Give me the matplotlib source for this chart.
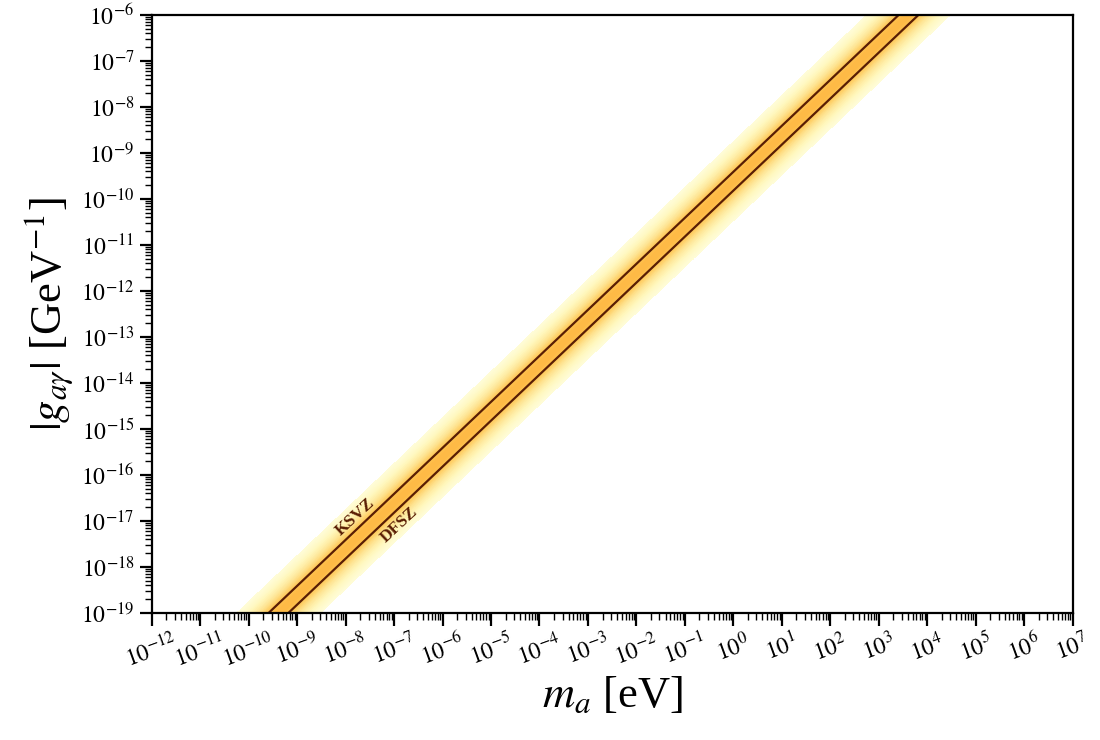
import numpy as np
import matplotlib
matplotlib.use('Agg')
import matplotlib.pyplot as plt

plt.rcParams['font.family'] = ['Liberation Serif', 'DejaVu Serif']
plt.rcParams['mathtext.fontset'] = 'stix'

# axis ranges
m_min, m_max = 1e-12, 1e7
g_min, g_max = 1e-19, 1e-6

# g = 2e-10 * C * m_a   (C: anomaly coefficient)
g_prefactor = 2e-10
C_ksvz = 1.92
C_dfsz = 0.75
C_center = 1.2
band_sigma = 0.4   # width of band in decades

x_decades = np.arange(-12, 8)
y_decades = np.arange(-19, -5)

line_col = '#5a1e04'

fig = plt.figure(figsize=(11, 7.4), dpi=100)
ax = fig.add_axes([0.138, 0.172, 0.837, 0.808])

n = 400
m = np.logspace(np.log10(m_min), np.log10(m_max), n)
g = np.logspace(np.log10(g_min), np.log10(g_max), n)
M, G = np.meshgrid(m, g)
dist = np.log10(G) - np.log10(g_prefactor * C_center * M)
Z = np.exp(-0.5 * (dist / band_sigma) ** 2)

cols = matplotlib.colormaps['YlOrBr'].copy()
cols.set_under('w')
levels = np.linspace(0.1, 1.0, 50)
ax.contourf(m, g, Z, levels, cmap=cols, vmin=0.0, vmax=2.45, zorder=0)

ax.plot(m, g_prefactor * C_ksvz * m, '-', color=line_col, lw=1.6, zorder=2)
ax.plot(m, g_prefactor * C_dfsz * m, '-', color=line_col, lw=1.6, zorder=2)

ax.text(1.55e-8, 1.23e-17, 'KSVZ', color=line_col, fontsize=12.5, fontweight='bold',
        rotation=43, ha='center', va='center')
ax.text(1.3e-7, 8.1e-18, 'DFSZ', color=line_col, fontsize=12.5, fontweight='bold',
        rotation=43, ha='center', va='center')

ax.set_xscale('log')
ax.set_yscale('log')
ax.set_xlim(m_min, m_max)
ax.set_ylim(g_min, g_max)

ax.set_xticks(10.0 ** x_decades)
ax.set_xticklabels(['$10^{%d}$' % d for d in x_decades], rotation=20, ha='center')
ax.set_yticks(10.0 ** y_decades)
ax.set_yticklabels(['$10^{%d}$' % d for d in y_decades])
ax.xaxis.set_minor_locator(matplotlib.ticker.LogLocator(base=10, subs=np.arange(2, 10), numticks=100))
ax.yaxis.set_minor_locator(matplotlib.ticker.LogLocator(base=10, subs=np.arange(2, 10), numticks=100))
ax.xaxis.set_minor_formatter(matplotlib.ticker.NullFormatter())
ax.yaxis.set_minor_formatter(matplotlib.ticker.NullFormatter())

ax.tick_params(which='major', direction='out', length=9, width=1.6, labelsize=17)
ax.tick_params(which='minor', direction='out', length=5, width=1.0)
for s in ax.spines.values():
    s.set_linewidth(1.6)

ax.set_xlabel(r'$m_a$ [eV]', fontsize=32, labelpad=2)
ax.set_ylabel(r'$|g_{a\gamma}|$ [GeV$^{-1}$]', fontsize=32, labelpad=4)

fig.savefig('out.png', dpi=100)
